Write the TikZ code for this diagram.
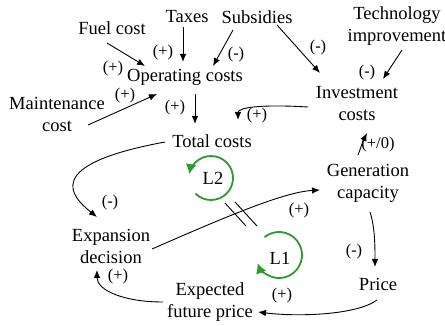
\documentclass[tikz,border=0pt]{standalone}
\usepackage{fontspec}
\setmainfont{Liberation Serif}
\usetikzlibrary{arrows.meta,calc}
\definecolor{loopgreen}{RGB}{44,154,44}
\begin{document}
\begin{tikzpicture}[x=1pt,y=-1pt,
  lbl/.style={font=\fontsize{18.5}{22}\selectfont, align=center, inner sep=1pt},
  pol/.style={font=\fontsize{16.5}{18}\selectfont, inner sep=0pt},
  arr/.style={line width=0.9pt, -{Latex[length=8pt,width=6.5pt]}},
  loopnode/.style={font=\fontsize{18.5}{22}\selectfont, inner sep=0pt},
  looparc/.style={draw=loopgreen, line width=1.8pt, -{Latex[length=10pt,width=11pt]}},
  delaymark/.style={line width=0.9pt}
]
\useasboundingbox (0,0) rectangle (445,326);

% variables
\node[lbl] (taxes) at (187,17) {Taxes};
\node[lbl] (subs) at (257,17) {Subsidies};
\node[lbl] (tech) at (397,26) {Technology\\improvement};
\node[lbl] (fuel) at (112,28) {Fuel cost};
\node[lbl] (opc) at (185,77) {Operating costs};
\node[lbl] (maint) at (57,114) {Maintenance\\cost};
\node[lbl] (total) at (212,141) {Total costs};
\node[lbl] (inv) at (357,104) {Investment\\costs};
\node[lbl] (gen) at (368,183) {Generation\\capacity};
\node[lbl] (exp) at (111,246) {Expansion\\decision};
\node[lbl] (price) at (378,284) {Price};
\node[lbl] (efp) at (210,302) {Expected\\future price};
\node[loopnode] (L2) at (213,178) {L2};
\node[loopnode] (L1) at (280,258) {L1};

% links
\draw[arr] ([shift={(-4,10)}]taxes.center) -- ([shift={(-2,-15)}]opc.center);
\draw[arr] ([shift={(-5,15)}]fuel.center) -- ([shift={(-40,-11)}]opc.center);
\draw[arr] ([shift={(31,11)}]maint.center) -- ([shift={(-28,17)}]opc.center);
\draw[arr] ([shift={(-24,13)}]subs.center) -- ([shift={(28,-11)}]opc.center);
\draw[arr] ([shift={(10,17)}]opc.center) -- ([shift={(-17,-17)}]total.center);
\draw[arr] ([shift={(20,8)}]subs.center) -- ([shift={(-37,-31)}]inv.center);
\draw[arr] ([shift={(5,24)}]tech.center) -- ([shift={(26,-25)}]inv.center);
\draw[arr] ([shift={(-49,3)}]inv.center) .. controls +(-50,-3) and +(0,-12) .. ([shift={(26,-21)}]total.center);
\draw[arr] ([shift={(-10,-28)}]gen.center) .. controls +(3,-8) and +(-4,8) .. ([shift={(10,29)}]inv.center);
\draw[arr] ([shift={(41,3)}]exp.center) .. controls +(80,-35) and +(-35,2) .. ([shift={(-48,7)}]gen.center);
\draw[arr] ([shift={(2,29)}]gen.center) .. controls +(5,15) and +(0,-20) .. ([shift={(-3,-17)}]price.center);
\draw[arr] ([shift={(-1,16)}]price.center) .. controls +(-20,15) and +(40,5) .. ([shift={(48,10)}]efp.center);
\draw[arr] ([shift={(-47,0)}]efp.center) .. controls +(-40,0) and +(0,20) .. ([shift={(-14,24)}]exp.center);
\draw[arr] ([shift={(-47,1)}]total.center) .. controls +(-125,23) and +(-25,-20) .. ([shift={(-14,-29)}]exp.center);

% delay marks
\draw[delaymark] (225,203) -- (246,226);
\draw[delaymark] (235,202) -- (257,226);

% loops
\draw[looparc] ([shift={(-2,0)}]L2.center) ++(225:22pt) arc[start angle=225, end angle=530, radius=22pt];
\draw[looparc] ([shift={(-1,-3)}]L1.center) ++(129:23pt) arc[start angle=129, end angle=-159, radius=23pt];

% polarities
\node[pol] (p1) at (163,53) {(+)};
\node[pol] (p2) at (113,69) {(+)};
\node[pol] (p3) at (125,96) {(+)};
\node[pol] (p4) at (236,55) {(-)};
\node[pol] (p5) at (175,108) {(+)};
\node[pol] (p6) at (318,48) {(-)};
\node[pol] (p7) at (367,73) {(-)};
\node[pol] (p8) at (257,116) {(+)};
\node[pol] (p9) at (378,145) {(+/0)};
\node[pol] (p10) at (110,203) {(-)};
\node[pol] (p11) at (299,211) {(+)};
\node[pol] (p12) at (354,252) {(-)};
\node[pol] (p13) at (282,296) {(+)};
\node[pol] (p14) at (118,277) {(+)};
\end{tikzpicture}
\end{document}
